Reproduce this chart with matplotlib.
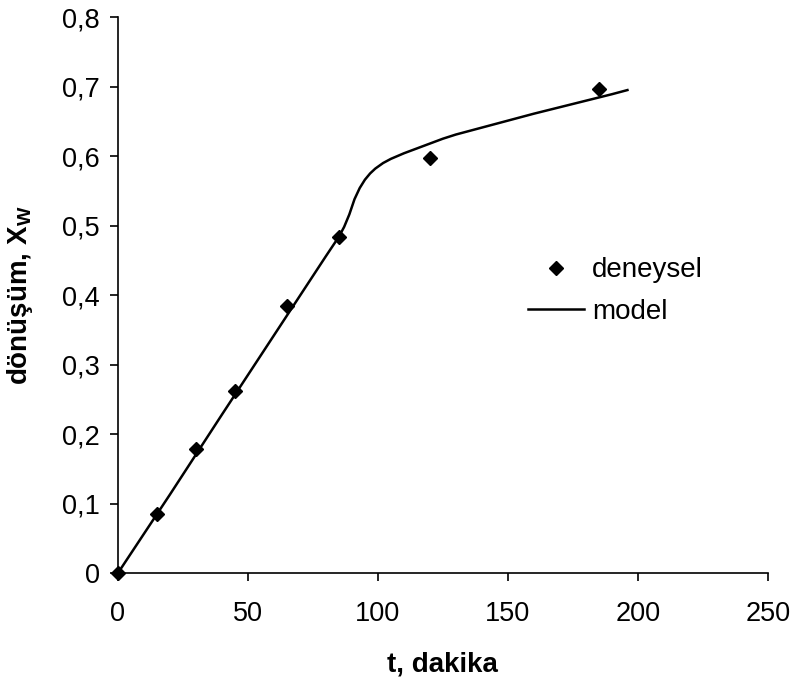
import numpy as np
import matplotlib.pyplot as plt
from matplotlib.ticker import FuncFormatter

plt.rcParams['font.family'] = ['Liberation Sans', 'DejaVu Sans']
plt.rcParams['mathtext.fontset'] = 'custom'
plt.rcParams['mathtext.bf'] = 'Liberation Sans:bold'
plt.rcParams['mathtext.rm'] = 'Liberation Sans:bold'

# deneysel veriler
t_exp = [0, 15, 30, 45, 65, 85, 120, 185]
x_exp = [0, 0.085, 0.179, 0.262, 0.384, 0.484, 0.597, 0.697]

# model egrisi
t_model = [0, 20, 40, 60, 80, 85, 87, 89, 91, 93, 95, 97, 99, 102, 105,
           110, 115, 120, 125, 130, 140, 150, 160, 175, 190, 196]
x_model = [0, 0.113, 0.228, 0.342, 0.456, 0.484, 0.498, 0.516, 0.538, 0.554,
           0.566, 0.575, 0.582, 0.590, 0.596, 0.604, 0.611, 0.618, 0.625,
           0.631, 0.641, 0.651, 0.661, 0.675, 0.689, 0.695]

fig, ax = plt.subplots(figsize=(7.94, 6.84), dpi=100)
fig.subplots_adjust(left=0.1486, right=0.967, bottom=0.1623, top=0.975)

ax.plot(t_exp, x_exp, linestyle='none', marker='D', ms=7, mew=1,
        color='black', label='deneysel', clip_on=False, zorder=3)
ax.plot(t_model, x_model, color='black', lw=1.8, label='model')

ax.set_xlim(0, 250)
ax.set_ylim(0, 0.8)
ax.set_xticks(np.arange(0, 251, 50))
ax.set_yticks(np.arange(0, 0.81, 0.1))
ax.yaxis.set_major_formatter(FuncFormatter(
    lambda v, p: '0' if abs(v) < 1e-9 else ('%.1f' % v).replace('.', ',')))

for s in ['top', 'right']:
    ax.spines[s].set_visible(False)
for s in ['left', 'bottom']:
    ax.spines[s].set_linewidth(1.2)
ax.tick_params(direction='out', length=6, width=1.2, labelsize=19.5)
ax.tick_params(axis='x', pad=14)
ax.tick_params(axis='y', pad=7)

ax.set_xlabel('t, dakika', fontsize=20, fontweight='bold', labelpad=18)
ax.set_ylabel(r'dönüşüm, $\mathbf{X}_\mathbf{W}$', fontsize=20, fontweight='bold')
ax.yaxis.set_label_coords(-0.128, 0.5)

ax.legend(loc='upper left', bbox_to_anchor=(0.593, 0.613), frameon=False,
          fontsize=20, handlelength=2.0, handletextpad=0.3, labelspacing=0.55)

fig.savefig('out.png', dpi=100)
